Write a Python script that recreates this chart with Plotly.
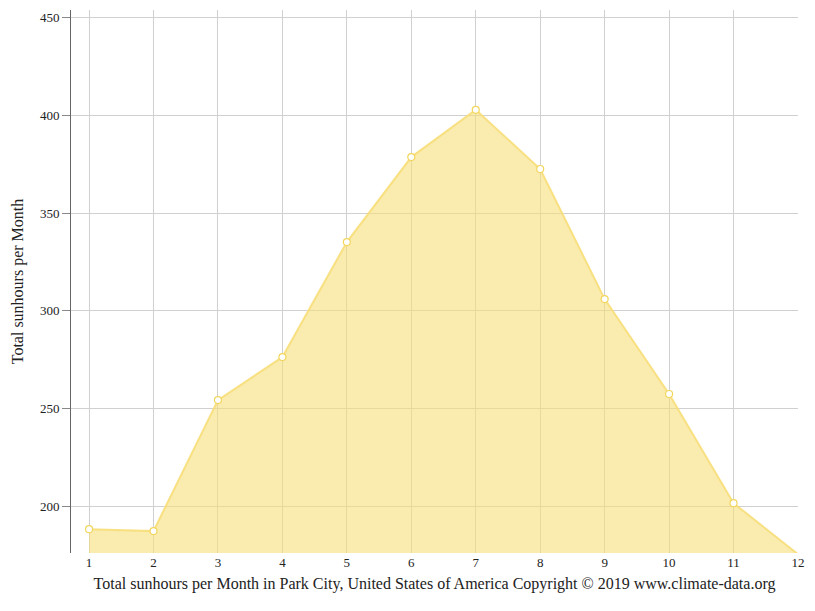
import plotly.graph_objects as go

months = [1, 2, 3, 4, 5, 6, 7, 8, 9, 10, 11, 12]
sunhours = [188.2, 187.2, 254.3, 276.3, 335.2, 378.7, 402.9, 372.6, 306.0, 257.4, 201.5, 175.4]

fig = go.Figure(go.Scatter(
    x=months, y=sunhours, mode='lines+markers', fill='tozeroy',
    fillcolor='rgba(247,222,120,0.6)',
    line=dict(color='rgba(247,222,120,0.9)', width=2),
    marker=dict(size=7, color='white', line=dict(color='#f2d65e', width=1.2)),
    cliponaxis=False, hoverinfo='x+y'
))

fig.update_layout(
    width=800, height=600, plot_bgcolor='white', paper_bgcolor='white',
    margin=dict(l=63, r=10, t=2, b=55),
    font=dict(family='Liberation Serif', size=13, color='#222'),
    showlegend=False,
    xaxis=dict(range=[0.72, 12], tickvals=months, showgrid=True, gridcolor='#d0d0d0',
               zeroline=False, ticks='', title=dict(
                   text='Total sunhours per Month in Park City, United States of America Copyright © 2019 www.climate-data.org',
                   font=dict(size=16), standoff=8)),
    yaxis=dict(range=[176, 454], tickvals=[200, 250, 300, 350, 400, 450], showgrid=True,
               gridcolor='#d0d0d0', zeroline=False, showline=True, linecolor='#666',
               ticks='outside', ticklen=8, tickcolor='#888',
               title=dict(text='Total sunhours per Month', font=dict(size=16), standoff=12)),
)

fig.write_html("out.html")
